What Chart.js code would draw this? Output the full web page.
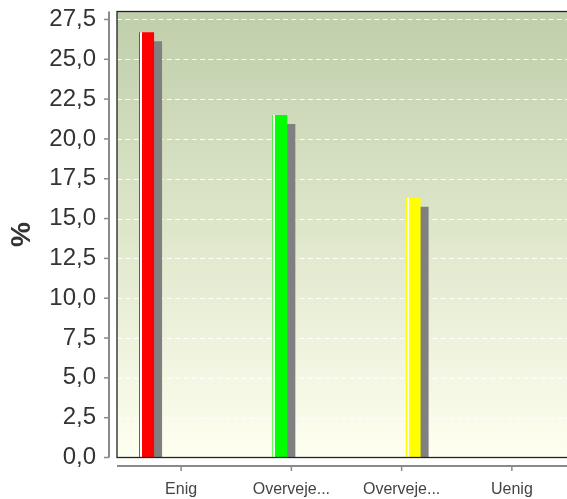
<!DOCTYPE html>
<html>
<head>
<meta charset="utf-8">
<script src="https://cdn.jsdelivr.net/npm/chart.js@4/dist/chart.umd.min.js"></script>
<style>
  html, body { margin: 0; padding: 0; background: #fff; }
  #wrap { width: 567px; height: 499px; }
</style>
</head>
<body>
<div id="wrap"><canvas id="chart" width="567" height="499"></canvas></div>
<script>
// chart data
const categories = ['Enig', 'Overveje...', 'Overveje...', 'Uenig'];
const values = [26.7, 21.5, 16.3, 0];
const barColors = ['#ff0000', '#00ff00', '#ffff00', '#0000ff'];
const yTicks = [0, 2.5, 5, 7.5, 10, 12.5, 15, 17.5, 20, 22.5, 25, 27.5];

const FONT = '"Liberation Sans", Arial, sans-serif';

// one dataset per category so each bar sits in its own slot
const datasets = categories.map((c, i) => ({
  label: c,
  data: categories.map((_, j) => (j === i ? values[i] : null)),
  backgroundColor: barColors[i],
  borderWidth: 0,
  categoryPercentage: 0.835,
  barPercentage: 0.65
}));

// background, dashed grid, bar shadows, border and detached axes
const decor = {
  id: 'decor',
  beforeDatasetsDraw(chart) {
    const { ctx, chartArea: a, scales } = chart;
    const left = a.left - 9;
    ctx.save();
    const g = ctx.createLinearGradient(0, a.top, 0, a.bottom);
    g.addColorStop(0, '#bfceab');
    g.addColorStop(0.5, '#dfe7cb');
    g.addColorStop(1, '#fffff0');
    ctx.fillStyle = g;
    ctx.fillRect(left, a.top, a.right - left + 2, a.bottom - a.top);

    ctx.strokeStyle = 'rgba(255,255,255,0.95)';
    ctx.lineWidth = 1;
    ctx.setLineDash([5, 3.3]);
    yTicks.forEach(v => {
      const y = Math.round(scales.y.getPixelForValue(v)) + 0.5;
      ctx.beginPath();
      ctx.moveTo(left, y);
      ctx.lineTo(a.right + 2, y);
      ctx.stroke();
    });
    ctx.restore();
  },
  beforeDatasetDraw(chart) {
    const ctx = chart.ctx;
    ctx.save();
    ctx.shadowColor = '#808080';
    ctx.shadowOffsetX = 8;
    ctx.shadowOffsetY = 9;
    ctx.shadowBlur = 0;
  },
  afterDatasetDraw(chart) {
    chart.ctx.restore();
  },
  afterDatasetsDraw(chart) {
    const { ctx, chartArea: a, scales } = chart;
    const left = a.left - 9;
    ctx.save();
    // light stripe near the left edge of each bar
    ctx.fillStyle = '#ffffff';
    chart.data.datasets.forEach((ds, i) => {
      chart.getDatasetMeta(i).data.forEach((bar, j) => {
        if (ds.data[j] == null) return;
        const x0 = Math.round(bar.x - bar.width / 2) + 1;
        const top = Math.min(bar.y, bar.base);
        const h = Math.abs(bar.base - bar.y);
        if (h > 0) ctx.fillRect(x0, top, 2, h);
      });
    });

    // plot border
    ctx.strokeStyle = '#222';
    ctx.lineWidth = 1.3;
    ctx.strokeRect(left, a.top, a.right - left + 4, a.bottom - a.top);

    // y axis line and ticks
    ctx.strokeStyle = '#8a8a8a';
    ctx.lineWidth = 2;
    ctx.beginPath();
    ctx.moveTo(109, a.top);
    ctx.lineTo(109, a.bottom);
    ctx.stroke();
    ctx.lineWidth = 1.5;
    yTicks.forEach(v => {
      const y = scales.y.getPixelForValue(v);
      ctx.beginPath();
      ctx.moveTo(104, y);
      ctx.lineTo(109, y);
      ctx.stroke();
    });

    // x axis line and ticks
    const xy = a.bottom + 8.5;
    ctx.lineWidth = 2;
    ctx.beginPath();
    ctx.moveTo(left, xy);
    ctx.lineTo(a.right + 2, xy);
    ctx.stroke();
    ctx.lineWidth = 1.5;
    categories.forEach((c, i) => {
      const x = scales.x.getPixelForValue(i);
      ctx.beginPath();
      ctx.moveTo(x, xy);
      ctx.lineTo(x, xy + 5);
      ctx.stroke();
    });
    ctx.restore();
  }
};

new Chart(document.getElementById('chart'), {
  type: 'bar',
  data: { labels: categories, datasets: datasets },
  options: {
    responsive: false,
    animation: false,
    layout: { padding: { left: 0, right: 0, top: 11.5, bottom: 0 } },
    plugins: { legend: { display: false }, tooltip: { enabled: false } },
    scales: {
      x: {
        grid: { display: false, drawTicks: false },
        border: { display: false },
        afterFit: s => { s.height = 41.5; s.paddingLeft = 0; s.paddingRight = 0; },
        ticks: {
          autoSkip: false,
          maxRotation: 0,
          padding: 22,
          color: '#444',
          font: { family: FONT, size: 16 }
        }
      },
      y: {
        min: 0,
        max: 28,
        grid: { display: false, drawTicks: false },
        border: { display: false },
        afterFit: s => { s.width = 126; s.paddingTop = 0; s.paddingBottom = 0; },
        afterBuildTicks: s => { s.ticks = yTicks.map(v => ({ value: v })); },
        title: {
          display: true,
          text: '%',
          color: '#333',
          padding: { top: 5, bottom: 4 },
          font: { family: FONT, size: 28, weight: 'bold' }
        },
        ticks: {
          padding: 30,
          color: '#333',
          font: { family: FONT, size: 24 },
          callback: v => Number(v).toFixed(1).replace('.', ',')
        }
      }
    }
  },
  plugins: [decor]
});
</script>
</body>
</html>
